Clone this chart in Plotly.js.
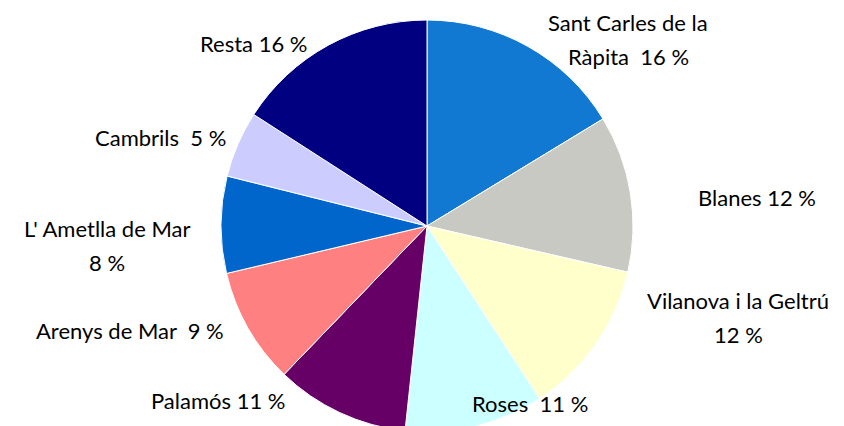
<!DOCTYPE html>
<html>
<head>
<meta charset="utf-8">
<script src="https://cdn.plot.ly/plotly-3.0.1.min.js"></script>
<style>
html,body{margin:0;padding:0;overflow:hidden;background:#fff;}
#chart{width:844px;height:440px;}
</style>
</head>
<body>
<div id="chart"></div>
<script>
// Data (clockwise from 12 o'clock)
const labels = ["Sant Carles de la Ràpita", "Blanes", "Vilanova i la Geltrú", "Roses", "Palamós", "Arenys de Mar", "L' Ametlla de Mar", "Cambrils", "Resta"];
const values = [16.3, 12.3, 12.2, 10.9, 10.5, 9.1, 7.6, 5.2, 15.9];
const shownPct = [16, 12, 12, 11, 11, 9, 8, 5, 16];
const colors = ["#1279D3", "#C8C9C3", "#FFFFCC", "#CCFFFF", "#660066", "#FF8080", "#0066CC", "#CCCCFF", "#000080"];

// label text lines (line breaks / spacing as in the reference)
const NB = "\u00a0";
const labelLines = [
  ["Sant Carles de la", "Ràpita" + NB + NB + shownPct[0] + " %"],
  ["Blanes " + shownPct[1] + " %"],
  ["Vilanova i la Geltrú", shownPct[2] + " %"],
  ["Roses" + NB + NB + shownPct[3] + " %"],
  ["Palamós " + shownPct[4] + " %"],
  ["Arenys de Mar" + NB + NB + shownPct[5] + " %"],
  ["L' Ametlla de Mar", shownPct[6] + " %"],
  ["Cambrils" + NB + NB + shownPct[7] + " %"],
  ["Resta " + shownPct[8] + " %"]
];
// first-line centers in pixels (x, y from top)
const labelPos = [[628, 23], [757, 197], [738, 300], [530, 403], [218, 400], [130, 330], [107, 228], [160, 137], [253, 44]];
const lineGap = 34;

const W = 844, H = 440;
const annotations = [];
labelLines.forEach((lines, i) => {
  lines.forEach((t, k) => {
    annotations.push({
      text: t, xref: "paper", yref: "paper",
      x: labelPos[i][0] / W, y: (H - (labelPos[i][1] + k * lineGap)) / H,
      xanchor: "center", yanchor: "middle", showarrow: false,
      font: {family: "Lato, 'Open Sans', sans-serif", size: 22, color: "#000"}
    });
  });
});

Plotly.newPlot("chart", [{
  type: "pie",
  labels: labels,
  values: values,
  sort: false,
  direction: "clockwise",
  rotation: 0,
  textinfo: "none",
  hoverinfo: "label+percent",
  marker: {colors: colors, line: {color: "#ffffff", width: 1}},
  domain: {x: [221 / W, 633 / W], y: [8 / H, 420 / H]}
}], {
  width: W, height: H,
  margin: {l: 0, r: 0, t: 0, b: 0},
  showlegend: false,
  paper_bgcolor: "#fff",
  annotations: annotations
}, {displayModeBar: false, staticPlot: true});
</script>
</body>
</html>
